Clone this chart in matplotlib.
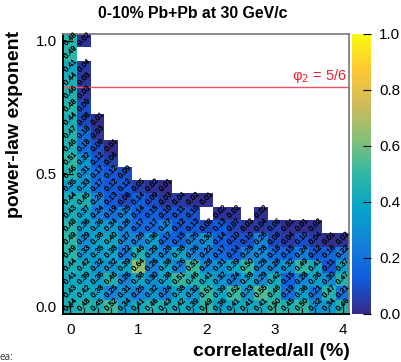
import numpy as np
import matplotlib
matplotlib.use("Agg")
import matplotlib.pyplot as plt
import matplotlib.patheffects as pe
from matplotlib.colors import LinearSegmentedColormap

plt.rcParams["font.family"] = ["Liberation Sans", "DejaVu Sans"]

n = None
fractions = [0.0, 0.2, 0.4, 0.6, 0.8, 1.0, 1.2, 1.4, 1.6, 1.8, 2.0,
             2.2, 2.4, 2.6, 2.8, 3.0, 3.2, 3.4, 3.6, 3.8, 4.0]
exponents = [1.0, 0.95, 0.9, 0.85, 0.8, 0.75, 0.7, 0.65, 0.6, 0.55, 0.5,
             0.45, 0.4, 0.35, 0.3, 0.25, 0.2, 0.15, 0.1, 0.05, 0.0]
# one list per exponent, top row first, short rows are empty to the right
rows = [
    [.48, .02],
    [.49],
    [.41, .04],
    [.44, .03],
    [.46, .03],
    [.48, .09],
    [.44, .08, .01],
    [.47, .18, .03],
    [.46, .18, .09, .01],
    [.51, .32, .12, .06],
    [.46, .31, .17, .12, .09],
    [.35, .33, .17, .12, .12, .05, .02, .01],
    [.44, .45, .26, .13, .08, .14, .09, .03, .04, .02, .01],
    [.43, .37, .24, .19, .25, .14, .15, .10, .11, .10, n, .02, .02, n, .02],
    [.48, .36, .36, .34, .26, .17, .17, .27, .12, .13, .08, .13, .07, .03, .04, .06, .01, .01, .02],
    [.49, .29, .38, .40, .27, .26, .36, .17, .15, .25, .30, .14, .10, .10, .26, .08, .04, .10, .04, .01, .02],
    [.49, .33, .35, .38, .22, .46, .29, .26, .38, .26, .22, .17, .14, .25, .28, .18, .15, .24, .12, .16, .22],
    [.44, .42, .32, .32, .39, .64, .26, .38, .26, .51, .28, .31, .39, .50, .28, .28, .32, .49, .41, .11, .37],
    [.41, .39, .36, .46, .26, .38, .30, .38, .51, .46, .41, .32, .24, .38, .29, .42, .15, .28, .36, .30, .47],
    [.43, .42, .38, .25, .31, .25, .32, .24, .38, .32, .51, .39, .52, .33, .55, .46, .19, .36, .21, .47, .21],
    [.44, .48, .45, .52, .34, .41, .46, .43, .42, .39, .49, .36, .41, .41, .41, .50, .45, .50, .32, .34, .46],
]
line_value = 0.825

# ROOT kBird palette
bird = LinearSegmentedColormap.from_list("bird", [
    (0.2082, 0.1664, 0.5293), (0.0592, 0.3599, 0.8684), (0.0780, 0.5041, 0.8385),
    (0.0232, 0.6419, 0.7914), (0.1802, 0.7178, 0.6425), (0.5301, 0.7492, 0.4662),
    (0.8186, 0.7328, 0.3499), (0.9956, 0.7862, 0.1968), (0.9764, 0.9832, 0.0539),
])

W, H = 402, 362
fig = plt.figure(figsize=(W / 100, H / 100), dpi=100, facecolor="white")
ax = fig.add_axes([63.5 / W, 1 - 313.5 / H, 286 / W, 280 / H])
cax = fig.add_axes([352 / W, 1 - 313.5 / H, 19 / W, 280 / H])

grid = np.full((len(exponents), len(fractions)), np.nan)
for i, row in enumerate(rows):
    for j, v in enumerate(row):
        if v is not None:
            grid[i, j] = v

mesh = ax.pcolormesh(fractions, exponents, np.ma.masked_invalid(grid),
                     cmap=bird, vmin=0, vmax=1, shading="nearest")

darker = [pe.withStroke(linewidth=0.12, foreground="black")]
for i, y in enumerate(exponents):
    for j, x in enumerate(fractions):
        if not np.isnan(grid[i, j]):
            t = ax.annotate(f"{grid[i, j]:.2f}", (x, y), xytext=(0, 0.8),
                            textcoords="offset points", ha="center", va="center",
                            rotation=45, rotation_mode="anchor", fontsize=5.4,
                            color="black", path_effects=darker)
            t.set_clip_on(True)

ax.axhline(line_value, color="#f05060", linewidth=1)
ax.text(4.06, line_value + 0.008, "φ$_2$ = 5/6", color="#f0202f", fontsize=10.5,
        ha="right", va="bottom")

ax.set_xlim(-0.1, 4.1)
ax.set_ylim(-0.027, 1.027)
ax.set_xticks([0, 1, 2, 3, 4])
ax.set_yticks([0, 0.5, 1.0])
ax.set_yticklabels(["0.0", "0.5", "1.0"])
ax.set_xticks(fractions, minor=True)
ax.tick_params(axis="both", which="major", direction="in", length=7, width=0.9,
               labelsize=11, top=False, right=False)
ax.tick_params(axis="x", which="minor", direction="in", length=4, width=0.8, top=False)
ax.tick_params(axis="x", which="major", pad=7)
ax.tick_params(axis="y", which="major", pad=5)
for side in ["top", "right"]:
    ax.spines[side].set_color("#777777")
    ax.spines[side].set_linewidth(1.2)
for side in ["left", "bottom"]:
    ax.spines[side].set_linewidth(1.4)

fig.text(193 / W, 1 - 13 / H, "0-10% Pb+Pb at 30 GeV/c", fontsize=11.4, fontweight="bold",
         ha="center", va="center")
fig.text(15 / W, 1 - 124.5 / H, "power-law exponent", rotation=90, fontsize=14,
         fontweight="bold", ha="center", va="center")
fig.text(271 / W, 1 - 352 / H, "correlated/all (%)", fontsize=14, fontweight="bold",
         ha="center", va="center")
fig.text(0, 1 - 357 / H, "ea:", fontsize=7, color="#333333", ha="left", va="center",
         family="Open Sans")

cbar = fig.colorbar(mesh, cax=cax)
cbar.set_ticks([0, 0.2, 0.4, 0.6, 0.8, 1.0])
cbar.set_ticklabels(["0.0", "0.2", "0.4", "0.6", "0.8", "1.0"])
cbar.ax.tick_params(direction="in", length=6, width=0.8, labelsize=11, pad=6, right=True)
cbar.outline.set_visible(False)

fig.savefig("out.png", dpi=100)
plt.close(fig)
